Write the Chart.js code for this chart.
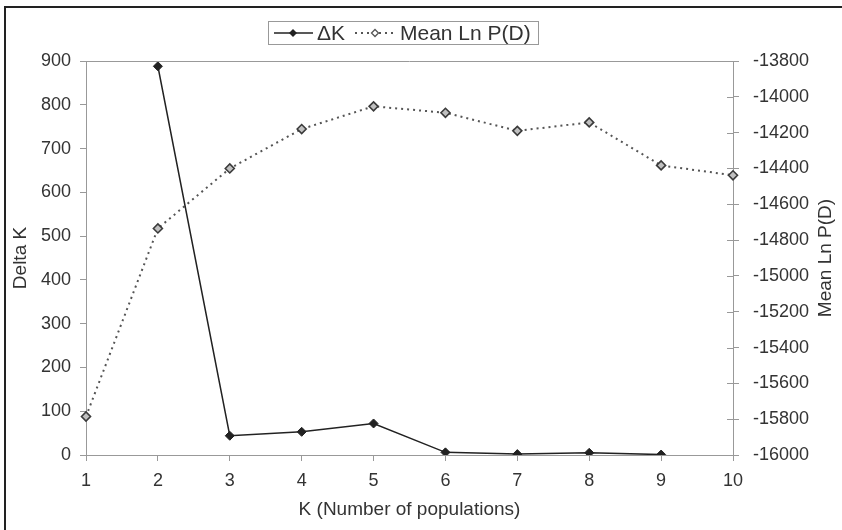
<!DOCTYPE html>
<html>
<head>
<meta charset="utf-8">
<script src="https://cdn.jsdelivr.net/npm/chart.js@4/dist/chart.umd.min.js"></script>
<style>
html,body{margin:0;padding:0;background:#fff;}
#wrap{position:relative;width:842px;height:530px;}
#frame{position:absolute;left:4px;top:6px;width:840px;height:530px;border-top:2px solid #222;border-left:2px solid #222;box-sizing:border-box;pointer-events:none;}
canvas{position:absolute;left:0;top:0;}
</style>
</head>
<body>
<div id="wrap">
<canvas id="c" width="842" height="530"></canvas>
<div id="frame"></div>
</div>
<script>
const categories = ['1','2','3','4','5','6','7','8','9','10'];
const deltaK = [null, 888, 44, 53, 72, 6, 2, 5, 1, null];
const meanLnPD = [-15785, -14735, -14400, -14180, -14053, -14089, -14190, -14143, -14383, -14438];
const leftTicks = {min: 0, max: 900, step: 100};
const rightTicks = {min: -16000, max: -13800, step: 200};
const seriesNames = ['\u0394K', 'Mean Ln P(D)'];
const xTitle = 'K (Number of populations)';
const yTitle = 'Delta K';
const y1Title = 'Mean Ln P(D)';

const FONT = "'Liberation Sans', Arial, sans-serif";
const TXT = '#333';
const AX = '#999';

function diamond(ctx, x, y, r, fill, stroke, lw) {
  ctx.beginPath();
  ctx.moveTo(x, y - r); ctx.lineTo(x + r, y); ctx.lineTo(x, y + r); ctx.lineTo(x - r, y); ctx.closePath();
  ctx.fillStyle = fill; ctx.fill();
  if (stroke) { ctx.strokeStyle = stroke; ctx.lineWidth = lw; ctx.stroke(); }
}

const extras = {
  id: 'extras',
  afterDraw(chart) {
    const ctx = chart.ctx;
    const a = chart.chartArea;
    const y1 = chart.scales.y1;
    ctx.save();
    ctx.strokeStyle = AX; ctx.lineWidth = 1;
    ctx.beginPath(); ctx.moveTo(a.left, a.top + 0.5); ctx.lineTo(a.right, a.top + 0.5); ctx.stroke();
    y1.ticks.forEach(t => {
      const py = Math.round(y1.getPixelForValue(t.value)) + 0.5;
      ctx.beginPath(); ctx.moveTo(a.right - 6, py); ctx.lineTo(a.right, py); ctx.stroke();
    });
    ctx.fillStyle = TXT;
    ctx.font = '19px ' + FONT;
    ctx.textAlign = 'center'; ctx.textBaseline = 'middle';
    ctx.translate(826, (a.top + a.bottom) / 2);
    ctx.rotate(-Math.PI / 2);
    ctx.fillText(y1Title, 0, 0);
    ctx.restore();

    // legend
    ctx.save();
    ctx.strokeStyle = AX; ctx.lineWidth = 1;
    ctx.strokeRect(268.5, 21.5, 270, 23);
    const ly = 33;
    ctx.strokeStyle = '#222'; ctx.lineWidth = 1.5;
    ctx.beginPath(); ctx.moveTo(274, ly); ctx.lineTo(313, ly); ctx.stroke();
    diamond(ctx, 293, ly, 4, '#222', null, 0);
    ctx.font = '21px ' + FONT;
    ctx.fillStyle = TXT; ctx.textAlign = 'left'; ctx.textBaseline = 'middle';
    ctx.fillText(seriesNames[0], 317, ly + 1);
    ctx.strokeStyle = '#555'; ctx.lineWidth = 2; ctx.setLineDash([2, 4]);
    ctx.beginPath(); ctx.moveTo(355, ly); ctx.lineTo(395, ly); ctx.stroke();
    ctx.setLineDash([]);
    diamond(ctx, 375, ly, 3.5, '#fff', '#555', 1.3);
    ctx.fillStyle = TXT;
    ctx.fillText(seriesNames[1], 400, ly + 1);
    ctx.restore();
  }
};

new Chart(document.getElementById('c'), {
  type: 'line',
  data: {
    labels: categories,
    datasets: [
      {
        label: seriesNames[0], data: deltaK, yAxisID: 'y',
        borderColor: '#222', borderWidth: 1.5, backgroundColor: '#222',
        pointStyle: 'rectRot', pointRadius: 4.5, pointBackgroundColor: '#222', pointBorderColor: '#222', pointBorderWidth: 1,
        tension: 0, spanGaps: false, fill: false
      },
      {
        label: seriesNames[1], data: meanLnPD, yAxisID: 'y1',
        borderColor: '#555', borderWidth: 2, borderDash: [2, 4],
        pointStyle: 'rectRot', pointRadius: 4.5, pointBackgroundColor: '#c0c0c0', pointBorderColor: '#3a3a3a', pointBorderWidth: 1.6,
        tension: 0, fill: false
      }
    ]
  },
  options: {
    responsive: false,
    animation: false,
    layout: {padding: {top: 61, left: 0, right: 0, bottom: 0}},
    plugins: {legend: {display: false}, tooltip: {enabled: false}},
    scales: {
      x: {
        type: 'category', offset: false,
        grid: {drawOnChartArea: false, drawTicks: true, tickLength: 6, color: AX},
        border: {display: true, color: AX, width: 1},
        ticks: {color: TXT, font: {family: FONT, size: 18}, padding: 9, maxRotation: 0, autoSkip: false},
        title: {display: true, text: xTitle, color: TXT, font: {family: FONT, size: 19}, padding: {top: 0, bottom: 9}},
        afterFit(s) { s.height = 75; }
      },
      y: {
        position: 'left', min: leftTicks.min, max: leftTicks.max,
        grid: {drawOnChartArea: false, drawTicks: true, tickLength: 6, color: AX},
        border: {display: true, color: AX, width: 1},
        ticks: {stepSize: leftTicks.step, color: TXT, font: {family: FONT, size: 18}, padding: 9, callback: v => String(v)},
        title: {display: true, text: yTitle, color: TXT, font: {family: FONT, size: 19}, padding: {top: 9, bottom: 0}},
        afterFit(s) { s.width = 86; }
      },
      y1: {
        position: 'right', min: rightTicks.min, max: rightTicks.max,
        grid: {drawOnChartArea: false, drawTicks: true, tickLength: 6, color: AX},
        border: {display: true, color: AX, width: 1},
        ticks: {stepSize: rightTicks.step, color: TXT, font: {family: FONT, size: 18}, padding: 14, callback: v => String(v)},
        afterFit(s) { s.width = 109; }
      }
    }
  },
  plugins: [extras]
});
</script>
</body>
</html>
